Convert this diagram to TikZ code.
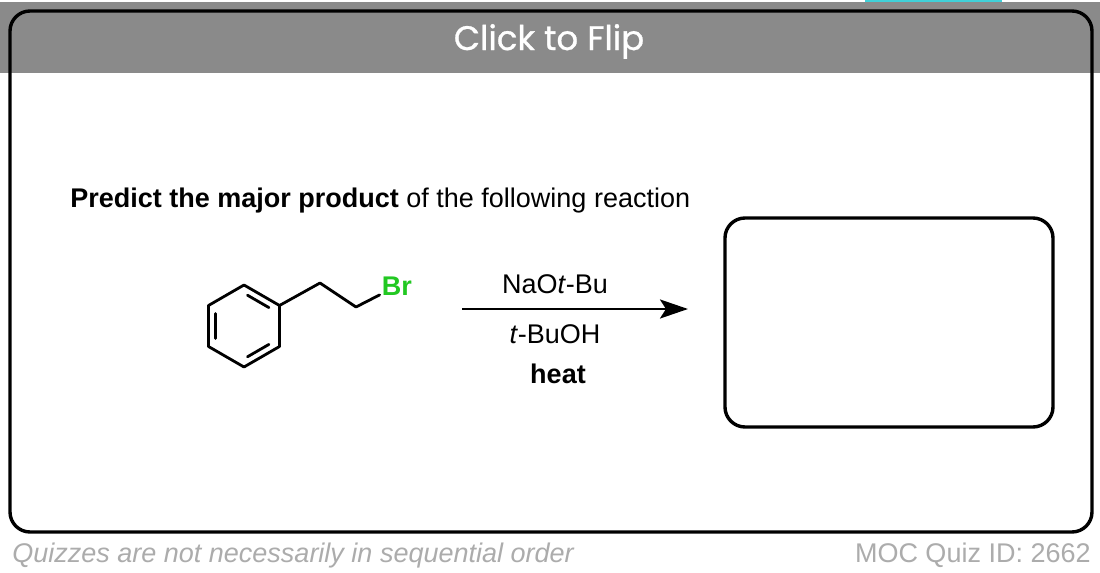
\documentclass[tikz,border=0pt]{standalone}
\usepackage{fontspec}
\setmainfont{Liberation Sans}
\newfontfamily\flipfont[FakeBold=0.8]{Poppins}
\usetikzlibrary{calc,arrows.meta}
\definecolor{bargray}{RGB}{138,138,138}
\definecolor{notegray}{RGB}{172,172,172}
\definecolor{brgreen}{RGB}{34,200,34}
\definecolor{tabcyan}{RGB}{64,208,216}

\begin{document}
\begin{tikzpicture}[x=0.5pt,y=-0.5pt,
  bond/.style={line width=1.4pt,line cap=round,line join=round},
  txt/.style={inner sep=0pt,font=\fontsize{13.5}{16}\selectfont},
  prodbox/.style={draw,line width=1.7pt,rounded corners=10pt,minimum width=164pt,minimum height=104.5pt}]
\useasboundingbox (0,0) rectangle (1100,573);
\fill[white] (0,0) rectangle (1100,573);
\fill[tabcyan] (865,0) rectangle (1002,2);
\fill[bargray] (0,2) rectangle (1100,73);
\draw[line width=1.7pt,rounded corners=10pt] (10,11) rectangle (1092,532);

\node[txt,anchor=base,text=white,font=\flipfont\fontsize{17}{20}\selectfont] (flip) at (549,50) {Click to Flip};
\node[txt,anchor=base west] (task) at (70,207) {\textbf{Predict the major product} of the following reaction};

\coordinate (o) at (244,326);
\coordinate (c1) at (244,285);
\coordinate (c2) at (279.5,305.5);
\coordinate (c3) at (279.5,346.5);
\coordinate (c4) at (244,367);
\coordinate (c5) at (208.5,346.5);
\coordinate (c6) at (208.5,305.5);
\coordinate (ch1) at (320,283);
\coordinate (ch2) at (356,307);
\node[txt,inner sep=1pt,text=brgreen,font=\fontsize{13.5}{16}\selectfont\bfseries] (br) at (397,286) {Br};

\draw[bond] (c1)--(c2)--(c3)--(c4)--(c5)--(c6)--cycle;
\draw[bond,shorten <=2pt,shorten >=2pt] ($(o)!0.8!(c1)$)--($(o)!0.8!(c2)$);
\draw[bond,shorten <=2pt,shorten >=2pt] ($(o)!0.8!(c3)$)--($(o)!0.8!(c4)$);
\draw[bond,shorten <=2pt,shorten >=2pt] ($(o)!0.8!(c5)$)--($(o)!0.8!(c6)$);
\draw[bond] (c2)--(ch1)--(ch2)--(br);

\coordinate (arrS) at (462,309);
\coordinate (arrE) at (688,309);
\draw[-{Stealth[length=14pt,width=9.5pt,inset=3pt]},line width=1.35pt] (arrS)--(arrE);
\node[txt,anchor=base] (base) at (555,293) {NaO\textit{t}-Bu};
\node[txt,anchor=base] (solv) at (555,343) {\textit{t}-BuOH};
\node[txt,anchor=base] (heat) at (558,383) {\textbf{heat}};

\node[prodbox] (prod) at (889,322.5) {};

\node[txt,anchor=base west,text=notegray] (note) at (12,562) {\textit{Quizzes are not necessarily in sequential order}};
\node[txt,anchor=base east,text=notegray] (quiz) at (1091,562) {MOC Quiz ID: 2662};
\end{tikzpicture}
\end{document}
